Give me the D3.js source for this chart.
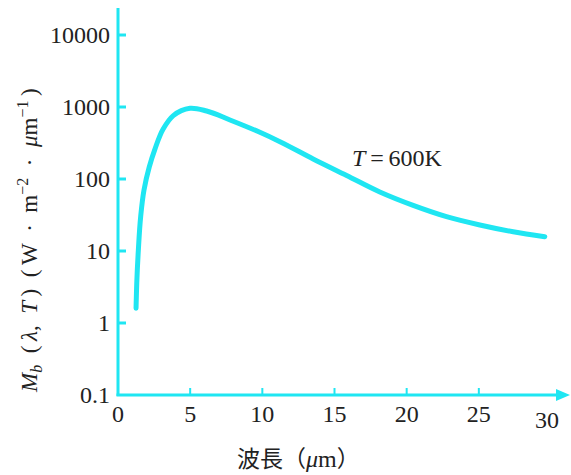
<!DOCTYPE html>
<html>
<head>
<meta charset="utf-8">
<script src="https://cdn.jsdelivr.net/npm/d3@7"></script>
<style>
  body { margin: 0; background: #fff; }
</style>
</head>
<body>
<div id="vis"></div>
<script>
let W = 571;
let H = 475;

// Data
let wavelength = [1.25, 1.30, 1.41, 1.57, 1.80, 2.17, 2.56, 3.14, 3.83, 4.99, 6.14, 7.76, 9.83, 11.22, 13.52, 15.84, 18.14, 20.45, 22.76, 25.07, 27.38, 29.57];
let radiance = [1.6, 3.6, 10.3, 30, 70, 148, 260, 500, 760, 960, 880, 660, 445, 330, 190, 112, 66, 43, 30, 23, 18.5, 15.8];
let xTicks = [0, 5, 10, 15, 20, 25, 30];
let yTicks = [0.1, 1, 10, 100, 1000, 10000];
let yTickLabels = ['0.1', '1', '10', '100', '1000', '10000'];

let CYAN = '#1fe6f2';
let SERIF = '"Liberation Serif", Tinos, "Times New Roman", Times, serif';
let CJK = '"Noto Sans CJK TC", "Noto Sans CJK SC", sans-serif';

let svg = d3.select('#vis').append('svg')
    .attr('width', W).attr('height', H)
    .attr('font-family', SERIF);

let x = d3.scaleLinear().domain([0, 30]).range([118, 551]);
let y = d3.scaleLog().domain([0.1, 10000]).range([395, 35]);

// Axes lines
svg.append('line')
    .attr('x1', x(0)).attr('y1', 8).attr('x2', x(0)).attr('y2', y(0.1) + 1)
    .attr('stroke', CYAN).attr('stroke-width', 3);
svg.append('line')
    .attr('x1', x(0) - 1.5).attr('y1', y(0.1)).attr('x2', 560).attr('y2', y(0.1))
    .attr('stroke', CYAN).attr('stroke-width', 3);
// arrow head on x axis
svg.append('path')
    .attr('d', `M556,${y(0.1) - 6}L570,${y(0.1)}L556,${y(0.1) + 6}Z`)
    .attr('fill', CYAN);

// y ticks
svg.selectAll('.ytick').data(yTicks.slice(1)).enter().append('line')
    .attr('x1', x(0)).attr('x2', x(0) + 8)
    .attr('y1', d => y(d)).attr('y2', d => y(d))
    .attr('stroke', CYAN).attr('stroke-width', 3);
svg.selectAll('.ylab').data(yTicks).enter().append('text')
    .attr('x', 110).attr('y', d => y(d) + 8)
    .attr('text-anchor', 'end').attr('font-size', 24).attr('fill', '#222')
    .text((d, i) => yTickLabels[i]);

// x ticks
svg.selectAll('.xtick').data(xTicks.slice(1, 6)).enter().append('line')
    .attr('x1', d => x(d)).attr('x2', d => x(d))
    .attr('y1', y(0.1)).attr('y2', y(0.1) - 7)
    .attr('stroke', CYAN).attr('stroke-width', 2);
svg.selectAll('.xlab').data(xTicks).enter().append('text')
    .attr('x', d => x(d) - (d === 30 ? 4 : 0)).attr('y', d => d === 30 ? 428 : 422)
    .attr('text-anchor', 'middle').attr('font-size', 24).attr('fill', '#222')
    .text(d => d);

// Curve
let pts = wavelength.map((w, i) => [w, radiance[i]]);
let line = d3.line().x(d => x(d[0])).y(d => y(d[1])).curve(d3.curveCatmullRom.alpha(1));
svg.append('path').datum(pts)
    .attr('d', line)
    .attr('fill', 'none').attr('stroke', CYAN).attr('stroke-width', 5)
    .attr('stroke-linecap', 'round');

// Annotation
let ann = svg.append('text').attr('x', 352).attr('y', 166).attr('font-size', 24).attr('fill', '#222');
ann.append('tspan').attr('font-style', 'italic').text('T');
ann.append('tspan').text('\u2009=\u2009600K');

// X label
let xl = svg.append('text').attr('x', 237).attr('y', 467).attr('font-size', 24).attr('fill', '#222');
xl.append('tspan').attr('font-family', CJK).attr('font-size', 23).text('波長（');
xl.append('tspan').attr('font-style', 'italic').text('μ');
xl.append('tspan').text('m');
xl.append('tspan').attr('font-family', CJK).attr('font-size', 23).text('）');

// Y label (rotated)
let yl = svg.append('text')
    .attr('transform', 'translate(37,392) rotate(-90)')
    .attr('font-size', 23).attr('fill', '#222');
yl.append('tspan').attr('font-style', 'italic').text('M');
yl.append('tspan').attr('font-style', 'italic').attr('font-size', 16).attr('dy', 5).text('b');
yl.append('tspan').attr('dy', -5).text('\u2002(\u2009');
yl.append('tspan').attr('font-style', 'italic').text('λ');
yl.append('tspan').text(',\u2002');
yl.append('tspan').attr('font-style', 'italic').text('T');
yl.append('tspan').text('\u2009)\u2002(\u2009W\u2002·\u2002m');
yl.append('tspan').attr('font-size', 16).attr('dy', -9).text('−2');
yl.append('tspan').attr('dy', 9).text('\u2002·\u2002');
yl.append('tspan').attr('font-style', 'italic').text('μ');
yl.append('tspan').text('m');
yl.append('tspan').attr('font-size', 16).attr('dy', -9).text('−1');
yl.append('tspan').attr('dy', 9).text('\u2009)');
</script>
</body>
</html>
